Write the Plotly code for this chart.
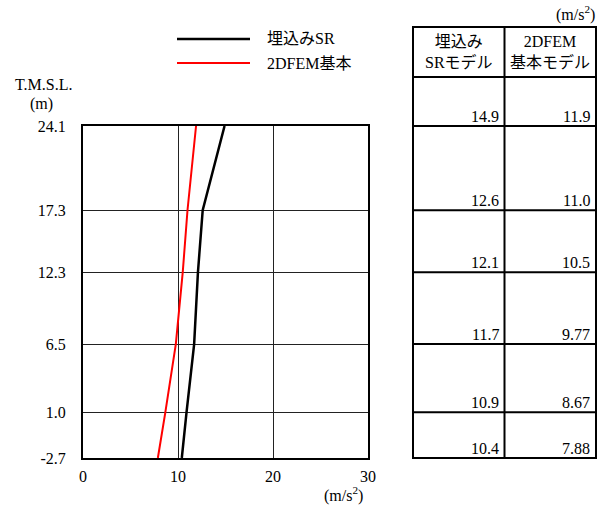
import plotly.graph_objects as go

# ---- data ----
elevations = [24.1, 17.3, 12.3, 6.5, 1.0, -2.7]
elev_labels = ["24.1", "17.3", "12.3", "6.5", "1.0", "-2.7"]
sr_values = [14.9, 12.6, 12.1, 11.7, 10.9, 10.4]
fem_values = [11.9, 11.0, 10.5, 9.77, 8.67, 7.88]
sr_text = ["14.9", "12.6", "12.1", "11.7", "10.9", "10.4"]
fem_text = ["11.9", "11.0", "10.5", "9.77", "8.67", "7.88"]
x_ticks = [0, 10, 20, 30]
series_names = ["埋込みSR", "2DFEM基本"]
header_names = ["埋込み<br>SRモデル", "2DFEM<br>基本モデル"]

W, H = 600, 509
FONT = "Liberation Serif, Noto Sans CJK JP"
FS = 16

# layout geometry (pixels)
PL, PR, PT, PB = 83, 368, 126, 458          # main plot area
TL, TR, TT, TB = 413, 596, 27, 459          # table box
ymin, ymax = min(elevations), max(elevations)
scale = (PB - PT) / (ymax - ymin)            # px per metre

def px_to_elev(p):
    return ymax - (p - PT) / scale

fig = go.Figure()
fig.add_trace(go.Scatter(x=sr_values, y=elevations, mode="lines",
                         line=dict(color="black", width=2.5), name=series_names[0],
                         xaxis="x", yaxis="y"))
fig.add_trace(go.Scatter(x=fem_values, y=elevations, mode="lines",
                         line=dict(color="red", width=2), name=series_names[1],
                         xaxis="x", yaxis="y"))

pad = 3
colw = (TR - TL) / 2
t_y_top, t_y_bot = TT - pad, TB + pad
fig.update_layout(
    width=W, height=H, showlegend=False,
    margin=dict(l=0, r=0, t=0, b=0),
    plot_bgcolor="white", paper_bgcolor="white",
    font=dict(family=FONT, size=FS, color="black"),
    xaxis=dict(domain=[PL / W, PR / W], range=[0, 30], tickvals=x_ticks,
               showgrid=True, gridcolor="#222", gridwidth=1,
               showline=True, linecolor="black", linewidth=2, mirror=True,
               zeroline=False, ticks="", ticklabelstandoff=3, automargin=False,
               tickfont=dict(size=FS)),
    yaxis=dict(domain=[1 - PB / H, 1 - PT / H], range=[ymin, ymax],
               tickvals=elevations, ticktext=elev_labels,
               showgrid=True, gridcolor="#222", gridwidth=1,
               showline=True, linecolor="black", linewidth=2, mirror=True,
               zeroline=False, ticks="", ticklabelstandoff=12, automargin=False,
               tickfont=dict(size=FS)),
    xaxis2=dict(domain=[(TL - pad) / W, (TR + pad) / W],
                range=[-pad / colw, 2 + pad / colw],
                visible=False, anchor="y2", fixedrange=True),
    yaxis2=dict(domain=[1 - t_y_bot / H, 1 - t_y_top / H],
                range=[px_to_elev(t_y_bot), px_to_elev(t_y_top)],
                visible=False, anchor="x2", fixedrange=True),
)

fig.add_trace(go.Scatter(x=[0, 2], y=[ymin, ymax], mode="markers",
                         marker=dict(opacity=0), xaxis="x2", yaxis="y2",
                         hoverinfo="skip"))

shapes = []
head_top = px_to_elev(TT)
head_bot = px_to_elev(77)
tab_bot = ymin
lw = 2
shapes.append(dict(type="rect", xref="x2", yref="y2", x0=0, x1=2, y0=tab_bot, y1=head_top,
                   line=dict(color="black", width=lw)))
shapes.append(dict(type="line", xref="x2", yref="y2", x0=1, x1=1, y0=tab_bot, y1=head_top,
                   line=dict(color="black", width=lw)))
for yv in [head_bot] + elevations[:-1]:
    shapes.append(dict(type="line", xref="x2", yref="y2", x0=0, x1=2, y0=yv, y1=yv,
                       line=dict(color="black", width=lw)))

leg_y = [39, 63]
leg_col = ["black", "red"]
leg_w = [2.5, 2.2]
for i in range(2):
    shapes.append(dict(type="line", xref="paper", yref="paper",
                       x0=177 / W, x1=250 / W, y0=1 - leg_y[i] / H, y1=1 - leg_y[i] / H,
                       line=dict(color=leg_col[i], width=leg_w[i])))
fig.update_layout(shapes=shapes)

ann = []
for i in range(2):
    ann.append(dict(xref="paper", yref="paper", x=265 / W, y=1 - leg_y[i] / H,
                    text=series_names[i], showarrow=False, xanchor="left", yanchor="middle",
                    font=dict(size=FS)))
for c in range(2):
    ann.append(dict(xref="x2", yref="y2", x=c + 0.5, y=(head_top + head_bot) / 2,
                    text=header_names[c], showarrow=False, xanchor="center", yanchor="middle",
                    font=dict(size=FS)))
off = 4 / colw
for i, e in enumerate(elevations):
    ann.append(dict(xref="x2", yref="y2", x=1 - off, y=e, text=sr_text[i], showarrow=False,
                    xanchor="right", yanchor="bottom", font=dict(size=FS), yshift=-1))
    ann.append(dict(xref="x2", yref="y2", x=2 - off, y=e, text=fem_text[i], showarrow=False,
                    xanchor="right", yanchor="bottom", font=dict(size=FS), yshift=-1))
ann.append(dict(xref="paper", yref="paper", x=597 / W, y=1 - 14 / H, text="(m/s<sup>2</sup>)",
                showarrow=False, xanchor="right", yanchor="middle", font=dict(size=FS)))
ann.append(dict(xref="paper", yref="paper", x=365 / W, y=1 - 494 / H, text="(m/s<sup>2</sup>)",
                showarrow=False, xanchor="right", yanchor="middle", font=dict(size=FS)))
ann.append(dict(xref="paper", yref="paper", x=43 / W, y=1 - 85 / H, text="T.M.S.L.",
                showarrow=False, xanchor="center", yanchor="middle", font=dict(size=FS)))
ann.append(dict(xref="paper", yref="paper", x=41 / W, y=1 - 104 / H, text="(m)",
                showarrow=False, xanchor="center", yanchor="middle", font=dict(size=FS)))
fig.update_layout(annotations=ann)

fig.write_html("out.html", config={"displayModeBar": False},
               post_script="document.body.style.margin='0';")
